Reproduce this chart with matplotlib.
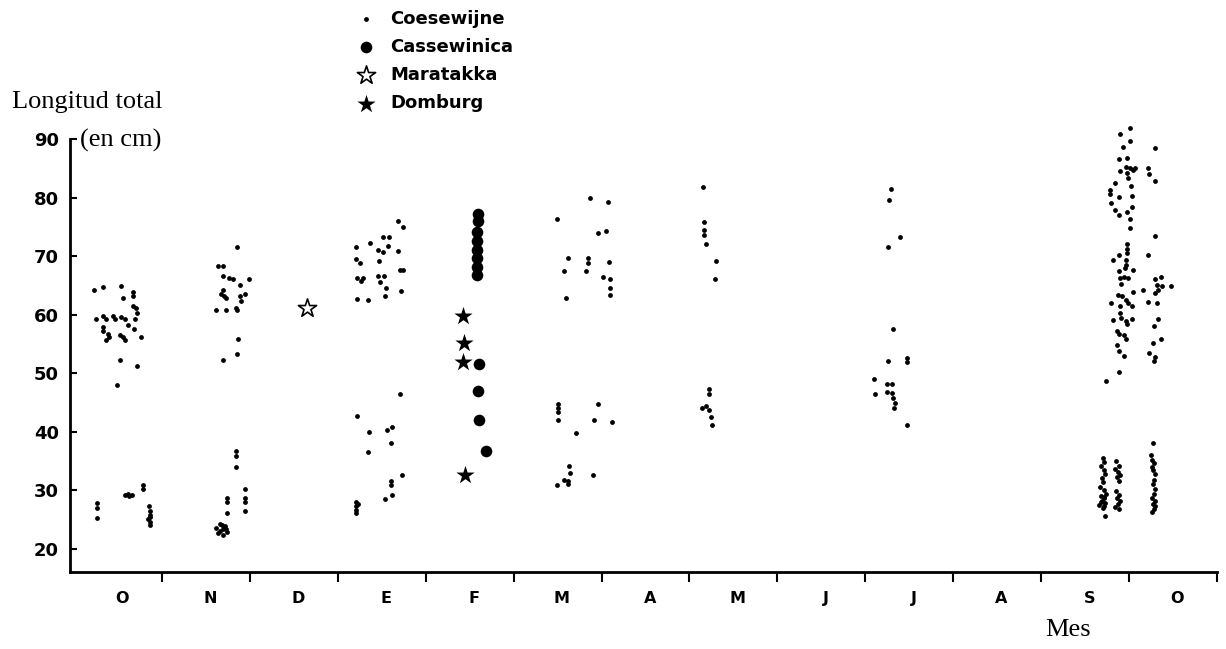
import matplotlib.pyplot as plt

# posicion en meses (0 = inicio de octubre) y longitud total (cm)
months = ['O', 'N', 'D', 'E', 'F', 'M', 'A', 'M', 'J', 'J', 'A', 'S', 'O']

# Coesewijne, por grupos de meses
oct_x = [0.23, 0.33, 0.54, 0.56, 0.67, 0.67, 0.67, 0.71, 0.72, 0.25, 0.33, 0.37, 0.44, 0.47, 0.53, 0.58,
         0.69, 0.33, 0.33, 0.62, 0.68, 0.40, 0.37, 0.52, 0.56, 0.58, 0.76, 0.52, 0.72, 0.49, 0.39,
         0.26, 0.26, 0.26, 0.58, 0.61, 0.63, 0.66, 0.78, 0.78, 0.85, 0.86, 0.87, 0.87, 0.84, 0.86, 0.86]
oct_y = [64.2, 64.7, 64.9, 62.9, 63.9, 63.2, 61.4, 61.1, 60.3, 59.3, 59.7, 59.2, 59.8, 59.3, 59.6, 59.2,
         59.3, 57.9, 57.2, 58.2, 57.5, 56.2, 55.7, 56.5, 56.1, 55.7, 56.1, 52.2, 51.2, 48.0, 56.6,
         27.8, 27.0, 25.3, 29.1, 29.3, 29.0, 29.2, 30.8, 30.1, 27.3, 26.5, 25.8, 25.4, 25.0, 24.6, 24.0]

nov_x = [1.64, 1.70, 1.70, 1.76, 1.81, 1.99, 1.89, 1.70, 1.67, 1.71, 1.73, 1.95, 1.89, 1.90, 1.62, 1.73,
         1.84, 1.85, 1.87, 1.69, 1.86, 1.86,
         1.84, 1.84, 1.84, 1.74, 1.74, 1.74, 1.95, 1.95, 1.95, 1.95,
         1.62, 1.66, 1.70, 1.74, 1.68, 1.72, 1.64, 1.70, 1.66, 1.73]
nov_y = [68.3, 68.3, 66.6, 66.2, 66.0, 66.1, 65.0, 64.2, 63.5, 63.1, 62.9, 63.5, 63.1, 62.3, 60.7, 60.7,
         61.2, 60.7, 55.9, 52.3, 53.2, 71.6,
         36.7, 35.8, 34.0, 28.7, 28.0, 26.0, 30.2, 28.7, 28.0, 26.4,
         23.6, 23.0, 23.4, 22.8, 24.0, 23.9, 22.6, 22.4, 24.2, 23.3]

ene_x = [3.69, 3.74, 3.37, 3.51, 3.58, 3.57, 3.46, 3.51, 3.68, 3.47, 3.25, 3.29, 3.27, 3.46, 3.53, 3.48,
         3.71, 3.74, 3.72, 3.55, 3.54, 3.34, 3.22, 3.22, 3.21, 3.21,
         3.71, 3.35, 3.56, 3.62, 3.61, 3.34, 3.73, 3.61, 3.61, 3.62, 3.54, 3.21, 3.21, 3.21, 3.21, 3.23, 3.22]
ene_y = [76.0, 75.0, 72.2, 73.2, 73.2, 71.7, 71.1, 70.7, 70.9, 69.2, 68.8, 66.2, 65.8, 66.6, 66.6, 65.5,
         67.6, 67.6, 64.1, 64.5, 63.1, 62.4, 66.2, 62.6, 71.5, 69.5,
         46.5, 39.9, 40.3, 40.7, 38.0, 36.5, 32.5, 31.6, 30.8, 29.2, 28.5, 28.0, 27.3, 26.6, 26.0, 27.6, 42.6]

mar_x = [5.49, 5.87, 6.07, 5.96, 6.05, 5.62, 5.85, 5.85, 5.57, 5.82, 6.09, 6.02, 6.10, 6.10, 6.10, 5.60,
         5.50, 5.50, 5.50, 5.50, 5.96, 5.91, 6.12, 5.71, 5.49, 5.63, 5.64, 5.62, 5.57, 5.62, 5.90]
mar_y = [76.3, 80.0, 79.2, 73.9, 74.3, 69.7, 69.7, 68.8, 67.5, 67.4, 68.9, 66.5, 66.1, 64.6, 63.3, 62.8,
         44.7, 44.0, 43.3, 41.9, 44.7, 41.9, 41.7, 39.7, 30.8, 34.1, 33.0, 31.6, 31.7, 31.1, 32.5]

may_x = [7.15, 7.17, 7.16, 7.16, 7.19, 7.30, 7.29, 7.22, 7.22, 7.14, 7.19, 7.22, 7.25, 7.26]
may_y = [81.8, 75.8, 74.5, 73.6, 72.0, 69.2, 66.1, 47.3, 46.4, 44.0, 44.3, 43.7, 42.5, 41.2]

jul_x = [9.29, 9.27, 9.39, 9.26, 9.32, 9.26, 9.47, 9.47, 9.10, 9.11, 9.25, 9.30, 9.25, 9.30, 9.31, 9.34,
         9.33, 9.47]
jul_y = [81.5, 79.6, 73.2, 71.6, 57.6, 52.0, 52.5, 51.9, 49.0, 46.5, 48.1, 48.1, 46.8, 46.6, 45.7, 44.8,
         44.1, 41.1]

sep_x = [12.01, 11.90, 12.01, 11.93, 11.89, 11.98, 11.96, 12.01, 12.05, 12.07, 11.90, 11.98, 11.99, 11.84,
         11.78, 11.78, 12.02, 11.89, 12.03, 11.79, 11.84, 12.03, 11.88, 11.98, 12.01, 12.01, 11.98, 11.98,
         11.98, 11.88, 11.82, 11.96, 11.97, 11.95, 12.05, 11.88, 11.90, 11.94, 11.99, 11.91, 12.04, 11.87,
         11.92, 11.97, 11.99, 12.03, 11.79, 11.90, 12.03, 11.82, 11.90, 11.91, 11.97, 11.98, 11.86, 11.89,
         11.94, 11.97, 11.86, 11.89, 11.94, 11.89, 11.74,
         11.70, 11.72, 11.68, 11.71, 11.73, 11.69, 11.70, 11.67, 11.72, 11.74, 11.68, 11.71, 11.69, 11.73,
         11.66, 11.70, 11.72, 11.68, 11.71, 11.73,
         11.85, 11.88, 11.84, 11.87, 11.90, 11.86, 11.89, 11.85, 11.88, 11.86, 11.90, 11.87, 11.84, 11.89]
sep_y = [91.9, 90.8, 89.6, 88.7, 86.5, 86.7, 85.3, 85.0, 84.7, 85.0, 84.5, 84.2, 83.3, 82.4,
         81.2, 80.6, 82.0, 80.1, 80.2, 79.1, 77.8, 78.4, 77.0, 77.6, 76.3, 74.8, 72.1, 71.2,
         70.5, 70.2, 69.4, 69.3, 68.4, 67.9, 67.6, 67.5, 66.2, 66.5, 66.3, 65.3, 63.8, 63.4,
         63.1, 62.5, 62.0, 61.4, 62.0, 61.4, 59.3, 59.1, 60.3, 59.4, 58.9, 58.3, 57.2, 56.6,
         56.5, 55.9, 54.8, 53.7, 52.9, 50.1, 48.6,
         35.5, 34.8, 34.1, 33.4, 32.7, 32.0, 31.3, 30.6, 30.0, 29.4, 29.0, 28.6, 28.2, 27.8,
         27.4, 27.0, 28.9, 28.0, 27.2, 25.6,
         35.0, 34.2, 33.6, 33.1, 32.6, 32.2, 31.5, 29.8, 29.2, 28.6, 28.1, 27.6, 27.1, 26.7]

oct2_x = [12.30, 12.21, 12.23, 12.29, 12.30, 12.22, 12.29, 12.36, 12.32, 12.37, 12.33, 12.30, 12.48, 12.16,
          12.21, 12.32, 12.33, 12.28, 12.36, 12.27, 12.23, 12.30, 12.28,
          12.27, 12.25, 12.26, 12.28, 12.26, 12.27, 12.29, 12.28, 12.27, 12.29, 12.28, 12.26, 12.30, 12.27,
          12.29, 12.28, 12.26]
oct2_y = [88.4, 85.0, 84.0, 82.9, 73.5, 70.2, 66.0, 66.5, 65.1, 64.8, 64.2, 63.7, 64.8, 64.2,
          62.1, 62.0, 59.3, 58.1, 55.8, 55.1, 53.4, 52.7, 52.1,
          38.0, 36.0, 35.2, 34.6, 34.0, 33.5, 32.7, 31.8, 31.0, 30.2, 29.4, 28.7, 28.2, 27.7,
          27.2, 26.7, 26.2]

coes_x = oct_x + nov_x + ene_x + mar_x + may_x + jul_x + sep_x + oct2_x
coes_y = oct_y + nov_y + ene_y + mar_y + may_y + jul_y + sep_y + oct2_y

# Cassewinica, Maratakka, Domburg
cass_x = [4.60, 4.59, 4.58, 4.58, 4.58, 4.58, 4.58, 4.58, 4.61, 4.60, 4.61, 4.69]
cass_y = [77.1, 76.0, 74.1, 72.6, 71.1, 69.6, 68.2, 66.7, 51.5, 47.0, 41.9, 36.7]
mara_x = [2.65]
mara_y = [61.1]
domb_x = [4.43, 4.44, 4.42, 4.45]
domb_y = [59.8, 55.2, 51.9, 32.5]

W, H = 1226, 649
fig = plt.figure(figsize=(W / 100, H / 100), dpi=100)
ax = fig.add_axes([70 / W, 1 - 572 / H, (1217 - 70) / W, (572 - 139) / H])

c = ax.scatter(coes_x, coes_y, s=12, c='black', lw=0, clip_on=False, label='Coesewijne')
k = ax.scatter(cass_x, cass_y, s=70, c='black', lw=0, clip_on=False, label='Cassewinica')
m = ax.scatter(mara_x, mara_y, s=190, marker='*', facecolor='white', edgecolor='black', lw=1.2,
               clip_on=False, label='Maratakka')
d = ax.scatter(domb_x, domb_y, s=190, marker='*', c='black', lw=0, clip_on=False, label='Domburg')

ax.set_xlim(-0.045, 13)
ax.set_ylim(16, 90)
for s in ['top', 'right']:
    ax.spines[s].set_visible(False)
for s in ['left', 'bottom']:
    ax.spines[s].set_linewidth(2)

ax.set_yticks(range(20, 91, 10))
ax.tick_params(axis='y', direction='in', length=5, width=1.5, pad=8)
for t in ax.get_yticklabels():
    t.set_fontweight('bold')
    t.set_fontsize(13)

ax.set_xticks(range(1, 14))
ax.set_xticklabels([])
ax.tick_params(axis='x', which='major', direction='out', length=7, width=1.5)
ax.set_xticks([i + 0.55 for i in range(13)], minor=True)
ax.set_xticklabels(months, minor=True, fontweight='bold', fontsize=11.5)
ax.tick_params(axis='x', which='minor', length=0, pad=14)

fig.text(12 / W, 1 - 102 / H, 'Longitud total', family='Liberation Serif', fontsize=19, va='center')
fig.text(80 / W, 1 - 140 / H, '(en cm)', family='Liberation Serif', fontsize=19, va='center')
fig.text(1068 / W, 1 - 630 / H, 'Mes', family='Liberation Serif', fontsize=19, va='center', ha='center')

fig.legend(handles=[c, k, m, d], loc='upper left', bbox_to_anchor=(357 / W, 1 - 9.5 / H),
           frameon=False, scatterpoints=1, handlelength=1.0, handletextpad=0.83,
           labelspacing=0.57, borderpad=0, borderaxespad=0,
           prop={'weight': 'bold', 'size': 13})

fig.savefig('out.png', dpi=100)
